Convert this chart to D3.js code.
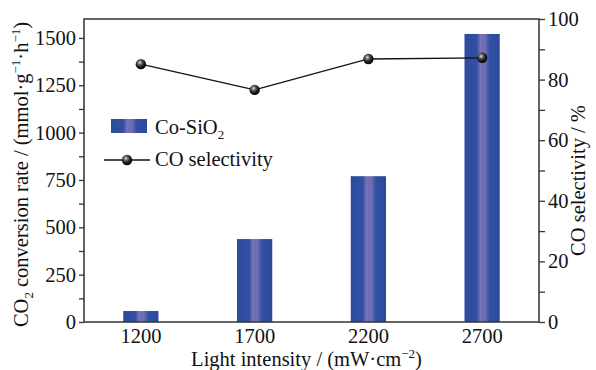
<!DOCTYPE html>
<html>
<head>
<meta charset="utf-8">
<script src="https://cdn.jsdelivr.net/npm/d3@7"></script>
<style>
  body { margin: 0; background: #fff; }
  text { font-family: "Liberation Serif", "Times New Roman", serif; fill: #111; }
</style>
</head>
<body>
<div id="chart"></div>
<script>
// data
const intensities = ['1200', '1700', '2200', '2700'];
const conversionRate = [58, 438, 770, 1521];
const coSelectivity = [85.1, 76.6, 86.8, 87.2];
const leftTicks = [0, 250, 500, 750, 1000, 1250, 1500];
const rightTicks = [0, 20, 40, 60, 80, 100];

const W = 596, H = 370;
const margin = { top: 19, right: 57, bottom: 48, left: 84 };
const width = W - margin.left - margin.right;
const height = H - margin.top - margin.bottom;

const svg = d3.select('#chart').append('svg')
  .attr('width', W).attr('height', H);

const defs = svg.append('defs');
const barGrad = defs.append('linearGradient').attr('id', 'barGrad')
  .attr('x1', '0%').attr('x2', '100%').attr('y1', '0%').attr('y2', '0%');
[['0%', '#2c4c9d'], ['34%', '#3150a2'], ['40%', '#5862ad'], ['46%', '#7a76bb'],
 ['52%', '#6a6cb4'], ['58%', '#7371b8'], ['66%', '#4a5aa8'], ['72%', '#3150a2'], ['100%', '#2b4a9b']]
  .forEach(s => barGrad.append('stop').attr('offset', s[0]).attr('stop-color', s[1]));

const ballGrad = defs.append('radialGradient').attr('id', 'ball')
  .attr('cx', '40%').attr('cy', '35%').attr('r', '65%');
[['0%', '#e8e8e8'], ['25%', '#777'], ['60%', '#222'], ['100%', '#000']]
  .forEach(s => ballGrad.append('stop').attr('offset', s[0]).attr('stop-color', s[1]));

const g = svg.append('g').attr('transform', `translate(${margin.left},${margin.top})`);

const x = d3.scaleBand().domain(intensities).range([0, width])
  .paddingInner(0.69).paddingOuter(0.345);
const y = d3.scaleLinear().domain([0, 1600]).range([height, 0]);
const y2 = d3.scaleLinear().domain([0, 100]).range([height, 0]);

// bars
g.selectAll('.bar').data(intensities).enter().append('rect')
  .attr('class', 'bar')
  .attr('x', d => x(d))
  .attr('width', x.bandwidth())
  .attr('y', (d, i) => y(conversionRate[i]))
  .attr('height', (d, i) => height - y(conversionRate[i]))
  .attr('fill', 'url(#barGrad)');

// selectivity line
const cx = d => x(d) + x.bandwidth() / 2;
g.append('path')
  .datum(intensities)
  .attr('fill', 'none').attr('stroke', '#111').attr('stroke-width', 1.3)
  .attr('d', d3.line().x(d => cx(d)).y((d, i) => y2(coSelectivity[i])));
g.selectAll('.pt').data(intensities).enter().append('circle')
  .attr('cx', d => cx(d)).attr('cy', (d, i) => y2(coSelectivity[i]))
  .attr('r', 5.2).attr('fill', 'url(#ball)');

// axes
const axisColor = '#333';
const fontSize = 20.5;
const sub = 13;

g.append('g')
  .call(d3.axisLeft(y).tickValues(leftTicks).tickSize(5).tickPadding(3).tickFormat(d3.format('d')));
g.append('g')
  .call(d3.axisLeft(y).tickValues(d3.range(125, 1600, 250)).tickSize(5).tickFormat(''));

g.append('g').attr('transform', `translate(${width},0)`)
  .call(d3.axisRight(y2).tickValues(rightTicks).tickSize(6).tickPadding(3));
g.append('g').attr('transform', `translate(${width},0)`)
  .call(d3.axisRight(y2).tickValues(d3.range(10, 100, 20)).tickSize(6).tickFormat(''));

g.append('g').attr('transform', `translate(0,${height})`)
  .call(d3.axisBottom(x).tickSize(0).tickPadding(6));

g.selectAll('.domain').remove();
g.selectAll('.tick line').attr('stroke', axisColor).attr('stroke-width', 1.3);
g.selectAll('.tick text').attr('font-size', fontSize)
  .style('font-family', '"Liberation Serif", serif').attr('fill', '#111');

// frame
g.append('rect').attr('width', width).attr('height', height)
  .attr('fill', 'none').attr('stroke', axisColor).attr('stroke-width', 1.5);

// axis titles
svg.append('text')
  .attr('x', margin.left + width / 2 - 5).attr('y', 366)
  .attr('text-anchor', 'middle').attr('font-size', fontSize)
  .html(`Light intensity / (mW·cm<tspan dy="-8" font-size="${sub}">−2</tspan><tspan dy="8">)</tspan>`);

svg.append('text')
  .attr('transform', `translate(28,${margin.top + height / 2 + 4}) rotate(-90)`)
  .attr('text-anchor', 'middle').attr('font-size', fontSize)
  .html(`CO<tspan dy="5" font-size="${sub}">2</tspan><tspan dy="-5"> conversion rate / (mmol·g</tspan><tspan dy="-8" font-size="${sub}">−1</tspan><tspan dy="8">·h</tspan><tspan dy="-8" font-size="${sub}">−1</tspan><tspan dy="8">)</tspan>`);

svg.append('text')
  .attr('transform', `translate(585,${margin.top + height / 2 + 10}) rotate(-90)`)
  .attr('text-anchor', 'middle').attr('font-size', fontSize)
  .text('CO selectivity / %');

// legend
const lg = svg.append('g');
lg.append('rect').attr('x', 111).attr('y', 119).attr('width', 36).attr('height', 14)
  .attr('fill', 'url(#barGrad)');
lg.append('text').attr('x', 155).attr('y', 134).attr('font-size', fontSize)
  .html(`Co-SiO<tspan dy="5" font-size="${sub}">2</tspan>`);
lg.append('line').attr('x1', 104).attr('x2', 150).attr('y1', 160).attr('y2', 160)
  .attr('stroke', '#111').attr('stroke-width', 1.3);
lg.append('circle').attr('cx', 127).attr('cy', 160).attr('r', 5.2).attr('fill', 'url(#ball)');
lg.append('text').attr('x', 155).attr('y', 166).attr('font-size', fontSize)
  .text('CO selectivity');
</script>
</body>
</html>
